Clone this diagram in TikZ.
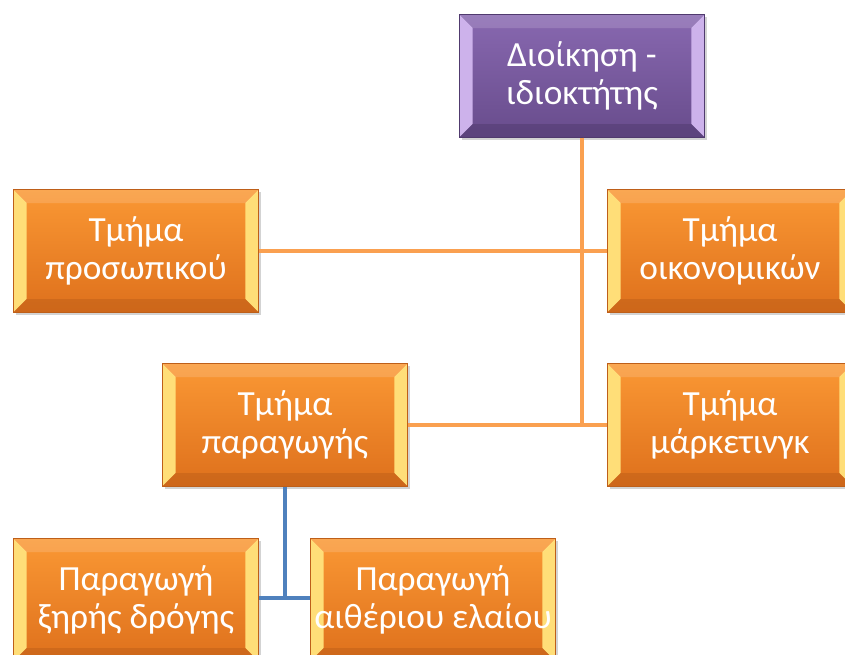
\documentclass[tikz,border=0pt]{standalone}
\usepackage{fontspec}
\setmainfont{Carlito}
\usetikzlibrary{shadows,calc}
\definecolor{orgtop}{RGB}{250,152,52}
\definecolor{orgbot}{RGB}{222,112,28}
\definecolor{orgside}{RGB}{255,222,120}
\definecolor{orgedge}{RGB}{190,95,25}
\definecolor{purtop}{RGB}{136,104,176}
\definecolor{purbot}{RGB}{104,76,140}
\definecolor{purside}{RGB}{205,178,235}
\definecolor{puredge}{RGB}{80,58,110}
\definecolor{linkorg}{RGB}{250,160,80}
\definecolor{linkblue}{RGB}{79,129,189}
\tikzset{
  bevel/.style n args={2}{path picture={
    \path (path picture bounding box.north west) coordinate (pnw)
          (path picture bounding box.south east) coordinate (pse);
    \fill[#1] (pnw) -- ($(pnw)+(10pt,-10pt)$) -- ($(pnw|-pse)+(10pt,10pt)$) -- (pnw|-pse) -- cycle;
    \fill[#1] (pse) -- ($(pse)+(-10pt,10pt)$) -- ($(pse|-pnw)+(-10pt,-10pt)$) -- (pse|-pnw) -- cycle;
    \fill[#2,opacity=0.5] (pnw|-pse) -- ($(pnw|-pse)+(10pt,10pt)$) -- ($(pse)+(-10pt,10pt)$) -- (pse) -- cycle;
    \fill[white,opacity=0.15] (pnw) -- ($(pnw)+(10pt,-10pt)$) -- ($(pse|-pnw)+(-10pt,-10pt)$) -- (pse|-pnw) -- cycle;
  }},
  deptbox/.style={rectangle, minimum width=184pt, minimum height=92pt, inner sep=0pt,
    align=center, text=white, font=\fontsize{26.5}{28}\selectfont,
    top color=orgtop, bottom color=orgbot, draw=orgedge, line width=0.6pt,
    drop shadow={opacity=0.35, shadow xshift=2pt, shadow yshift=-2pt},
    bevel={orgside}{orgedge}},
  headbox/.style={deptbox, top color=purtop, bottom color=purbot, draw=puredge,
    bevel={purside}{puredge}},
  orgline/.style={draw=linkorg, line width=3.6pt},
  blueline/.style={draw=linkblue, line width=3.6pt}
}
\begin{document}
\begin{tikzpicture}[x=0.75pt,y=0.75pt,yscale=-1,xscale=1]
    \useasboundingbox (0,0) rectangle (845,654);

    % Text Node
    \node [headbox] (own) at (582,76) {Διοίκηση -\\ιδιοκτήτης};
    % Text Node
    \node [deptbox] (pers) at (136,251) {Τμήμα\\προσωπικού};
    % Text Node
    \node [deptbox] (fin) at (730,251) {Τμήμα\\οικονομικών};
    % Text Node
    \node [deptbox] (prod) at (285,425) {Τμήμα\\παραγωγής};
    % Text Node
    \node [deptbox] (mark) at (730,425) {Τμήμα\\μάρκετινγκ};
    % Text Node
    \node [deptbox] (dry) at (136,600) {Παραγωγή\\ξηρής δρόγης};
    % Text Node
    \node [deptbox] (oil) at (433,600) {Παραγωγή\\αιθέριου ελαίου};

    %Straight Lines
    \draw [orgline] (own.south) -- (own.south |- prod.east);
    \draw [orgline] (pers.east) -- (fin.west);
    \draw [orgline] (prod.east) -- (mark.west);
    %Straight Lines
    \draw [blueline] (prod.south) -- (prod.south |- 0,598);
    \draw [blueline] (dry.east |- 0,598) -- (oil.west |- 0,598);

\end{tikzpicture}
\end{document}
